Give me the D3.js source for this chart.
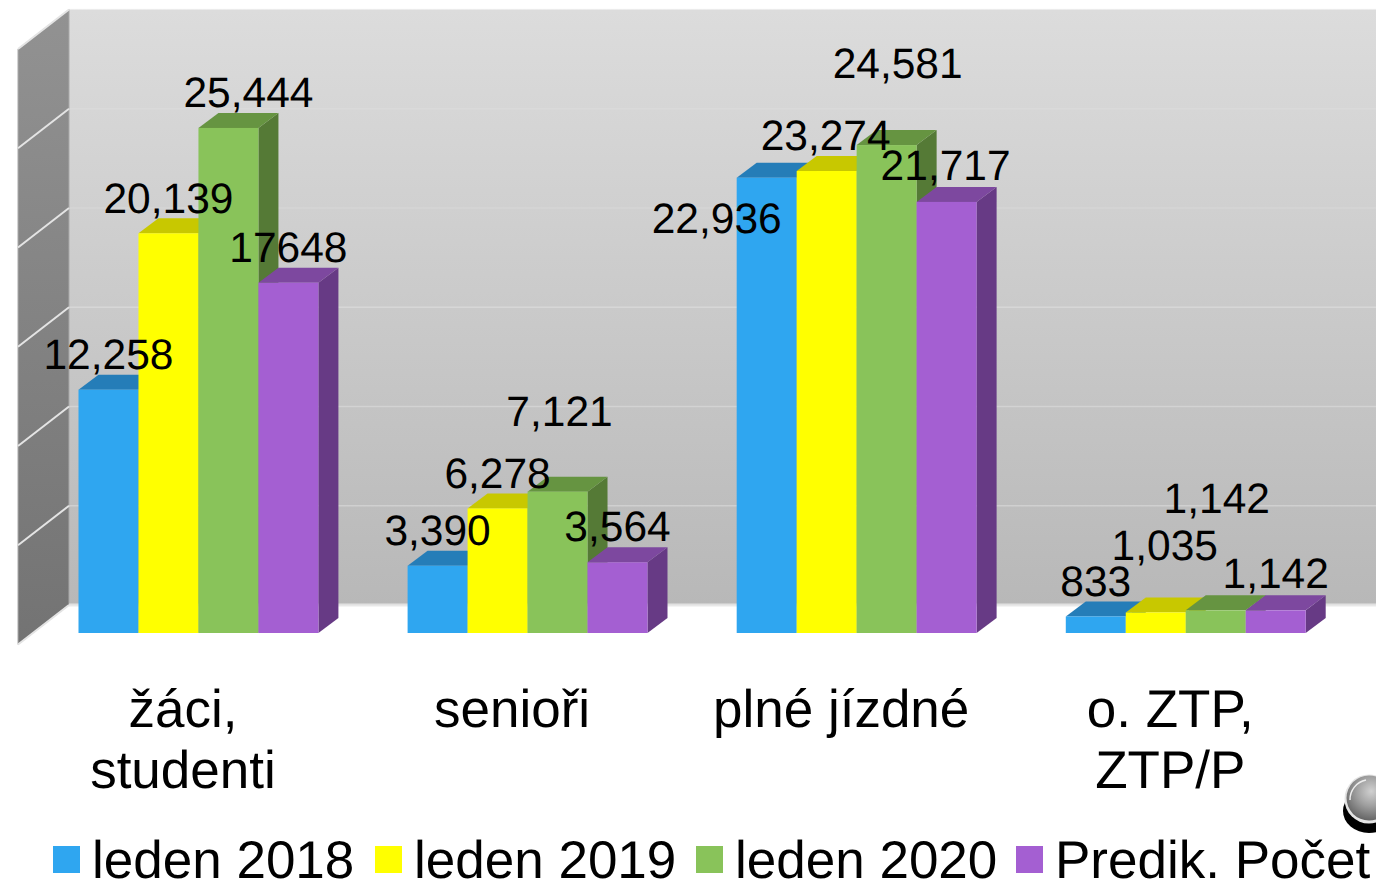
<!DOCTYPE html>
<html><head><meta charset="utf-8">
<script src="https://cdn.jsdelivr.net/npm/d3@7/dist/d3.min.js"></script>
<style>html,body{margin:0;padding:0;background:#fff;overflow:hidden}svg{display:block}text{font-family:"Liberation Sans",Arial,sans-serif;fill:#000;text-rendering:geometricPrecision}</style>
</head><body><svg id="c" width="1376" height="882"></svg>
<script>
const categories = [["žáci,","studenti"],["senioři"],["plné jízdné"],["o. ZTP,","ZTP/P"]];
const seriesNames = ["leden 2018","leden 2019","leden 2020","Predik. Počet"];
const leden2018 = [12258,3390,22936,833];
const leden2019 = [20139,6278,23274,1035];
const leden2020 = [25444,7121,24581,1142];
const predik = [17648,3564,21717,1142];
const labels2018 = ["12,258","3,390","22,936","833"];
const labels2019 = ["20,139","6,278","23,274","1,035"];
const labels2020 = ["25,444","7,121","24,581","1,142"];
const labelsPredik = ["17648","3,564","21,717","1,142"];
const gridTicks = [0,5000,10000,15000,20000,25000,30000];

const series = [leden2018,leden2019,leden2020,predik];
const seriesLabels = [labels2018,labels2019,labels2020,labelsPredik];
const faces = [
 {front:"#2fa6f0",top:"#257db8",side:"#1f6796"},
 {front:"#ffff00",top:"#c8c800",side:"#a5a500"},
 {front:"#89c35a",top:"#669441",side:"#557a36"},
 {front:"#a45fd2",top:"#7d489f",side:"#673a85"}
];
// hand-placed label shifts in the reference: "series,category": [dx, dy]
const nudges = {"2,0":[20,0],"2,1":[2,-45],"0,2":[-50,75.5],"2,2":[11,-46.5],"1,3":[9,-31.5],"2,3":[1,-76.5],"3,3":[0,-1.5],"3,1":[0,-1],"2,1 ":[0,0],"3,2":[-1,-1],"1,2":[-1,-.5]};

const svg = d3.select("#c");
const defs = svg.append("defs");
const g1 = defs.append("linearGradient").attr("id","wall").attr("x1",0).attr("y1",0).attr("x2",0).attr("y2",1);
g1.append("stop").attr("offset",0).attr("stop-color","#dcdcdc");
g1.append("stop").attr("offset",1).attr("stop-color","#b8b8b8");
const g2 = defs.append("linearGradient").attr("id","side").attr("x1",0).attr("y1",0).attr("x2",0).attr("y2",1);
g2.append("stop").attr("offset",0).attr("stop-color","#929292");
g2.append("stop").attr("offset",1).attr("stop-color","#737373");
const g3 = defs.append("radialGradient").attr("id","ball").attr("cx",0.55).attr("cy",0.35).attr("r",0.65);
g3.append("stop").attr("offset",0).attr("stop-color","#d0d0d0");
g3.append("stop").attr("offset",0.5).attr("stop-color","#a0a0a0");
g3.append("stop").attr("offset",1).attr("stop-color","#666");

const y = d3.scaleLinear().domain([0,30000]).range([633,37.5]);
const x0 = d3.scaleBand().domain(d3.range(categories.length)).range([78.5,1305.7]).paddingInner(0.271).paddingOuter(0);
const x1 = d3.scaleBand().domain(d3.range(series.length)).range([0,x0.bandwidth()]);
const wallDy = -28; // back plane relative to bar-front plane
const backY = v => y(v)+wallDy;
const wallX = 69;

svg.append("rect").attr("x",wallX).attr("y",backY(30000)).attr("width",1376-wallX).attr("height",backY(0)-backY(30000)).attr("fill","url(#wall)");
const sideDx=-51, sideDy=39.5;
svg.append("path").attr("fill","url(#side)").attr("stroke","#a9a9a9").attr("stroke-width",1)
 .attr("d",d3.line()([[wallX,backY(30000)],[wallX,backY(0)],[wallX+sideDx,backY(0)+sideDy],[wallX+sideDx,backY(30000)+sideDy]])+"Z");
svg.append("g").selectAll("line").data(gridTicks).join("line")
 .attr("x1",wallX).attr("x2",1376).attr("y1",backY).attr("y2",backY)
 .attr("stroke","#e6e6e6").attr("stroke-width",d=>d===0?3:1.5).attr("stroke-opacity",d=>d===0?.9:d>=20000?.25:.45);
svg.append("g").selectAll("line").data(gridTicks).join("line")
 .attr("x1",wallX).attr("x2",wallX+sideDx).attr("y1",backY).attr("y2",d=>backY(d)+sideDy)
 .attr("stroke","#e4e4e4").attr("stroke-width",2);

const dx=20, dy=-15;
series.forEach((vals,s)=>{
 const gs = svg.append("g");
 const f = faces[s];
 vals.forEach((v,c)=>{
  const l = x0(c)+x1(s), w = x1.bandwidth(), t = y(v), b = y(0);
  gs.append("path").attr("fill",f.side).attr("d",d3.line()([[l+w,t],[l+w+dx,t+dy],[l+w+dx,b+dy],[l+w,b]])+"Z");
  gs.append("path").attr("fill",f.top).attr("d",d3.line()([[l,t],[l+dx,t+dy],[l+w+dx,t+dy],[l+w,t]])+"Z");
  gs.append("rect").attr("x",l).attr("y",t).attr("width",w).attr("height",b-t).attr("fill",f.front);
 });
});
series.forEach((vals,s)=>vals.forEach((v,c)=>{
 const n = nudges[s+","+c]||[0,0];
 svg.append("text").attr("x",x0(c)+x1(s)+x1.bandwidth()/2+n[0]).attr("y",y(v)-20.5+n[1])
  .attr("text-anchor","middle").attr("font-size",42.5).text(seriesLabels[s][c]);
}));
categories.forEach((lines,c)=>lines.forEach((t,i)=>{
 svg.append("text").attr("x",x0(c)+x0.bandwidth()/2-15.5).attr("y",727+i*61)
  .attr("text-anchor","middle").attr("font-size",53).text(t);
}));
const legX=[53,375,696,1016];
seriesNames.forEach((n,i)=>{
 svg.append("rect").attr("x",legX[i]).attr("y",846).attr("width",27).attr("height",27).attr("fill",faces[i].front);
 svg.append("text").attr("x",legX[i]+39).attr("y",878).attr("font-size",53).text(n);
});
svg.append("ellipse").attr("cx",1369).attr("cy",811).attr("rx",26).attr("ry",22).attr("fill","#000");
svg.append("circle").attr("cx",1369).attr("cy",799).attr("r",24.5).attr("fill","#e4e4e4");
svg.append("circle").attr("cx",1369).attr("cy",798).attr("r",22.5).attr("fill","url(#ball)");
svg.append("path").attr("d","M1350,800 A20,20 0 0 1 1366,780").attr("fill","none").attr("stroke","#eee").attr("stroke-width",1.5);
</script></body></html>
